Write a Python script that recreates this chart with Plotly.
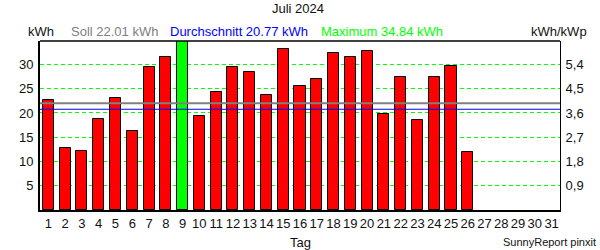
import plotly.graph_objects as go

days = list(range(1, 32))
kwh = [22.7, 12.8, 12.2, 18.8, 23.1, 16.3, 29.4, 31.6, 34.84, 19.3,
       24.3, 29.4, 28.4, 23.8, 33.1, 25.5, 27.1, 32.3, 31.6, 32.7,
       19.8, 27.4, 18.6, 27.4, 29.6, 12.0, None, None, None, None, None]
soll = 22.01
avg = 20.77
maximum = 34.84
left_ticks = [5, 10, 15, 20, 25, 30]
right_ticktext = ["0,9", "1,8", "2,7", "3,6", "4,5", "5,4"]

colors = ["#00FF00" if (v is not None and v == maximum) else "#FF0000" for v in kwh]

FONT = "Liberation Sans, Arial, sans-serif"
TXT = "#111111"

fig = go.Figure()
fig.add_trace(go.Bar(
    x=days, y=kwh, width=0.66,
    marker=dict(color=colors, line=dict(color="black", width=1)),
    hoverinfo="x+y", showlegend=False,
))
# invisible trace for right axis
fig.add_trace(go.Scatter(x=[days[0]], y=[0], yaxis="y2", mode="markers",
                         marker=dict(opacity=0), showlegend=False, hoverinfo="skip"))

fig.update_layout(
    width=600, height=250,
    margin=dict(l=40, r=40, t=41, b=40),
    paper_bgcolor="white", plot_bgcolor="white",
    font=dict(family=FONT, size=13, color=TXT),
    bargap=0,
    xaxis=dict(
        range=[0.5, 31.5], tickmode="array", tickvals=days,
        ticktext=[str(d) for d in days], ticks="", showgrid=False,
        zeroline=False, showline=True, linecolor="black", linewidth=2,
        mirror=False, tickfont=dict(size=13, color=TXT), fixedrange=True,
    ),
    yaxis=dict(
        range=[0, maximum], tickmode="array", tickvals=left_ticks,
        ticks="", showgrid=True, gridcolor="#00FF00", gridwidth=1,
        griddash="4px,3px", zeroline=False, showline=True,
        linecolor="black", linewidth=2, tickfont=dict(size=13, color=TXT),
        ticklabelstandoff=2,
    ),
    yaxis2=dict(
        range=[0, maximum], overlaying="y", side="right", tickmode="array",
        tickvals=left_ticks, ticktext=right_ticktext, ticks="",
        showgrid=False, zeroline=False, showline=True, linecolor="black",
        linewidth=1, tickfont=dict(size=13, color=TXT), ticklabelstandoff=2,
    ),
)

# top border
fig.add_shape(type="line", xref="paper", yref="paper", x0=0, x1=1, y0=1, y1=1,
              line=dict(color="black", width=1.5), layer="above")
# Soll and average lines
fig.add_shape(type="line", xref="paper", yref="y", x0=0, x1=1, y0=soll, y1=soll,
              line=dict(color="#808080", width=2), layer="above")
fig.add_shape(type="line", xref="paper", yref="y", x0=0, x1=1, y0=avg, y1=avg,
              line=dict(color="#0000FF", width=1), layer="above")

def ann(text, x, y, xanchor, color=TXT, size=13):
    fig.add_annotation(text=text, x=x, y=y, xref="paper", yref="paper",
                       xanchor=xanchor, yanchor="middle", showarrow=False,
                       font=dict(family=FONT, size=size, color=color))

W, H = 520.0, 169.0
def px(x):
    return (x - 40) / W
def py(y):
    return (210 - y) / H

ann("Juli 2024", px(298), py(9), "center")
ann("kWh", px(26), py(32), "left")
ann(f"Soll {soll:.2f} kWh", px(69), py(32), "left", "#808080")
ann(f"Durchschnitt {avg:.2f} kWh", px(168), py(32), "left", "#0000FF")
ann(f"Maximum {maximum:.2f} kWh", px(319), py(32), "left", "#00FF00")
ann("kWh/kWp", px(589), py(32), "right")
ann("Tag", px(300), py(242), "center")
ann("SunnyReport pinxit", px(598), py(242), "right", size=11)

fig.write_html("out.html")
